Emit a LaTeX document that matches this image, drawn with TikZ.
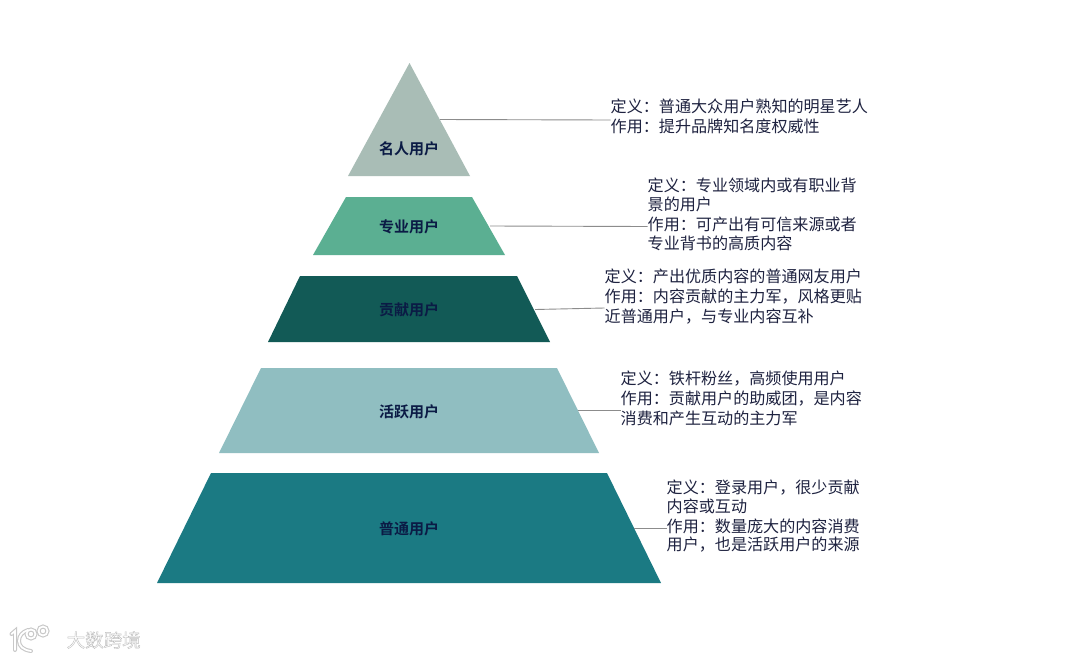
\documentclass[tikz,border=0pt]{standalone}
\usepackage{fontspec}
\newfontfamily\cjk{Noto Sans CJK SC}
\newfontfamily\cjkb{Noto Sans CJK SC Bold}
\newfontfamily\cjkw[FakeBold=2.2]{Noto Sans CJK SC}
\def\cl{\char"FF1A\relax}
\def\cm{\char"FF0C\relax}
\definecolor{ca}{HTML}{A9BDB6}
\definecolor{cb}{HTML}{5BAF92}
\definecolor{cc}{HTML}{125A56}
\definecolor{cd}{HTML}{90BEC1}
\definecolor{ce}{HTML}{1B7A83}
\definecolor{lab}{HTML}{0B1B45}
\definecolor{txt}{HTML}{1E2240}
\definecolor{lin}{HTML}{8C8C8C}
\definecolor{glow}{HTML}{C8C8C8}
\tikzset{
  layerlabel/.style={font=\cjkb\fontsize{15}{18}\selectfont,text=lab,inner sep=0pt},
  note/.style={font=\cjk\fontsize{16.08}{20}\selectfont,text=txt,inner sep=0pt,anchor=west,align=left},
  notetight/.style={note,font=\cjk\fontsize{16.08}{18.6}\selectfont},
  leader/.style={draw=lin,line width=0.9pt},
  logoglow/.style={draw=glow,line width=4pt,line cap=round},
  logoline/.style={draw=white,line width=1.8pt,line cap=round},
}
\begin{document}
\begin{tikzpicture}[x=1pt,y=-1pt]
\useasboundingbox (0,0) rectangle (1080,659);
\fill[white] (0,0) rectangle (1080,659);
% pyramid
\fill[ca] (409.5,63) -- (470,176) -- (348,176) -- cycle;
\fill[cb] (346,197) -- (472,197) -- (505,255) -- (313,255) -- cycle;
\fill[cc] (300,276) -- (517,276) -- (550,342) -- (268,342) -- cycle;
\fill[cd] (261,368) -- (557,368) -- (599,453) -- (219,453) -- cycle;
\fill[ce] (211,473) -- (607,473) -- (661,583) -- (157,583) -- cycle;
\node[layerlabel] (l1) at (409,148.5) {名人用户};
\node[layerlabel] (l2) at (409,226.5) {专业用户};
\node[layerlabel] (l3) at (409,310) {贡献用户};
\node[layerlabel] (l4) at (409,411.5) {活跃用户};
\node[layerlabel] (l5) at (409,529) {普通用户};
% notes
\node[note] (t1) at (610.5,116.5) {定义\cl 普通大众用户熟知的明星艺人\\作用\cl 提升品牌知名度权威性};
\node[notetight] (t2) at (647.5,214.3) {定义\cl 专业领域内或有职业背\\景的用户\\[1.9pt]作用\cl 可产出有可信来源或者\\专业背书的高质内容};
\node[note] (t3) at (604.5,296.5) {定义\cl 产出优质内容的普通网友用户\\作用\cl 内容贡献的主力军\cm 风格更贴\\近普通用户\cm 与专业内容互补};
\node[note] (t4) at (620.5,398) {定义\cl 铁杆粉丝\cm 高频使用用户\\作用\cl 贡献用户的助威团\cm 是内容\\消费和产生互动的主力军};
\node[notetight] (t5) at (666.5,516.3) {定义\cl 登录用户\cm 很少贡献\\内容或互动\\[1.4pt]作用\cl 数量庞大的内容消费\\用户\cm 也是活跃用户的来源};
% connectors
\coordinate (a1) at (440,119.5);
\coordinate (a2) at (490,226);
\coordinate (a3) at (535,309.5);
\coordinate (a4) at (578,410);
\coordinate (a5) at (634,528);
\draw[leader] (a1) -- ([yshift=-3.5pt]t1.west);
\draw[leader] (a2) -- ([yshift=-12.2pt]t2.west);
\draw[leader] (a3) -- ([yshift=-11.5pt]t3.west);
\draw[leader] (a4) -- ([yshift=-12pt]t4.west);
\draw[leader] (a5) -- ([yshift=-11.7pt]t5.west);
% watermark
\node[font=\cjkw\fontsize{18.5}{20}\selectfont,text=white,inner sep=0pt,anchor=west] (wm) at (66.5,640) {\special{pdf:code 0.74 G}大数跨境};
\foreach \st in {logoglow,logoline}{
  \draw[\st] (11.5,634) -- (15,631) -- (15,650);
  \draw[\st] (28,630) .. controls (22,632) and (19,636) .. (19,641) .. controls (19,646) and (23,650) .. (31,651);
  \draw[\st] (31,634) circle (4.5);
  \draw[\st] (43,631) circle (4.5);
}
\end{tikzpicture}
\end{document}
